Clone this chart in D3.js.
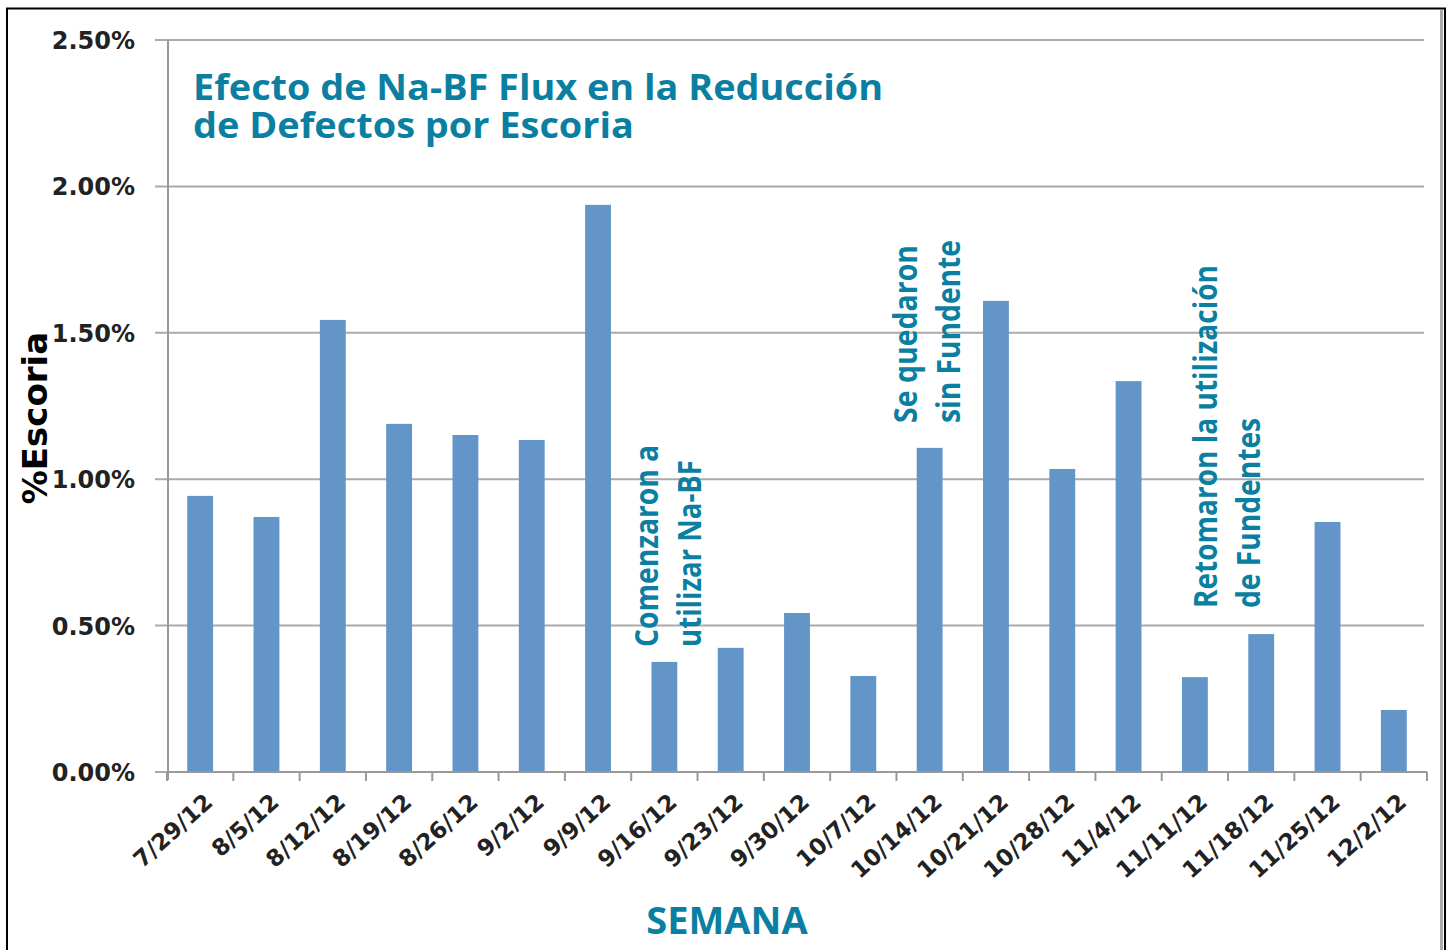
<!DOCTYPE html>
<meta charset="utf-8">
<script src="https://d3js.org/d3.v7.min.js"></script>
<style>
  body { margin: 0; background: #fff; }
</style>
<svg id="chart" width="1449" height="950"></svg>
<script>

// weeks and % slag values
var weeks = ["7/29/12", "8/5/12", "8/12/12", "8/19/12", "8/26/12", "9/2/12", "9/9/12",
  "9/16/12", "9/23/12", "9/30/12", "10/7/12", "10/14/12", "10/21/12", "10/28/12",
  "11/4/12", "11/11/12", "11/18/12", "11/25/12", "12/2/12"];
var escoria = [0.00943, 0.00871, 0.01544, 0.01189, 0.01151, 0.01134, 0.01937,
  0.00376, 0.00424, 0.00543, 0.00328, 0.01107, 0.01609, 0.01035,
  0.01335, 0.00324, 0.00471, 0.00854, 0.00212];
var yTicks = [0, 0.005, 0.01, 0.015, 0.02, 0.025];

var titleLines = ["Efecto de Na-BF Flux en la Reducción", "de Defectos por Escoria"];
var notes = [
  { week: "9/16/12", lines: ["Comenzaron a", "utilizar Na-BF"] },
  { week: "10/14/12", lines: ["Se quedaron", "sin Fundente"] },
  { week: "11/11/12", lines: ["Retomaron la utilización", "de Fundentes"] }
];

var teal = "#0b7fa1";
var barColor = "#6395c8";

var svg = d3.select("#chart");

// plot box
var plotLeft = 167, plotRight = 1427, plotTop = 40, plotBottom = 772;

var x = d3.scaleBand()
  .domain(weeks)
  .range([plotLeft, plotRight])
  .paddingInner(0.61)
  .paddingOuter(0.305);

var y = d3.scaleLinear()
  .domain([0, 0.025])
  .range([plotBottom, plotTop]);

// frame
svg.append("line").attr("x1", 7).attr("x2", 7).attr("y1", 8).attr("y2", 950)
  .attr("stroke", "#000").attr("stroke-width", 2);
svg.append("line").attr("x1", 6).attr("x2", 1446).attr("y1", 8.5).attr("y2", 8.5)
  .attr("stroke", "#000").attr("stroke-width", 2);
svg.append("line").attr("x1", 1445).attr("x2", 1445).attr("y1", 8).attr("y2", 950)
  .attr("stroke", "#000").attr("stroke-width", 2);
svg.append("line").attr("x1", 1441.5).attr("x2", 1441.5).attr("y1", 10).attr("y2", 950)
  .attr("stroke", "#aaa").attr("stroke-width", 3);

// gridlines
svg.append("g")
  .selectAll("line")
  .data(yTicks)
  .enter()
  .append("line")
    .attr("x1", 155)
    .attr("x2", 1424)
    .attr("y1", function(d) { return y(d); })
    .attr("y2", function(d) { return y(d); })
    .attr("stroke", "#aaa")
    .attr("stroke-width", 2);

// y tick labels
svg.append("g")
  .selectAll("text")
  .data(yTicks)
  .enter()
  .append("text")
    .attr("x", 135)
    .attr("y", function(d) { return y(d) + 9; })
    .attr("text-anchor", "end")
    .style("font-family", "DejaVu Sans")
    .style("font-weight", "bold")
    .style("font-size", "24px")
    .style("fill", "#222")
    .text(function(d) { return d3.format(".2%")(d); });

// y axis line
svg.append("line").attr("x1", 168).attr("x2", 168).attr("y1", plotTop).attr("y2", plotBottom + 8)
  .attr("stroke", "#999").attr("stroke-width", 2);

// bars
svg.append("g")
  .selectAll("rect")
  .data(escoria)
  .enter()
  .append("rect")
    .attr("x", function(d, i) { return x(weeks[i]); })
    .attr("y", function(d) { return y(d); })
    .attr("width", x.bandwidth())
    .attr("height", function(d) { return y(0) - y(d); })
    .attr("fill", barColor);

// x axis line and ticks at band edges
svg.append("line").attr("x1", plotLeft).attr("x2", plotRight).attr("y1", plotBottom).attr("y2", plotBottom)
  .attr("stroke", "#999").attr("stroke-width", 2);
var edges = weeks.map(function(w) { return x(w) + x.bandwidth() / 2 - x.step() / 2; });
edges.push(plotRight);
svg.append("g")
  .selectAll("line")
  .data(edges)
  .enter()
  .append("line")
    .attr("x1", function(d) { return d; })
    .attr("x2", function(d) { return d; })
    .attr("y1", plotBottom)
    .attr("y2", plotBottom + 9)
    .attr("stroke", "#999")
    .attr("stroke-width", 2);

// x tick labels
svg.append("g")
  .selectAll("text")
  .data(weeks)
  .enter()
  .append("text")
    .attr("transform", function(d) {
      return "translate(" + (x(d) + x.bandwidth() / 2 + 14) + "," + (plotBottom + 32) + ") rotate(-42)";
    })
    .attr("text-anchor", "end")
    .style("font-family", "DejaVu Sans")
    .style("font-weight", "bold")
    .style("font-size", "23px")
    .style("fill", "#222")
    .text(function(d) { return d; });

// title
var titleWidths = [690, 441];
svg.append("g")
  .selectAll("text")
  .data(titleLines)
  .enter()
  .append("text")
    .attr("x", 193)
    .attr("y", function(d, i) { return 100 + i * 38; })
    .attr("textLength", function(d, i) { return titleWidths[i]; })
    .attr("lengthAdjust", "spacingAndGlyphs")
    .style("font-family", "Open Sans")
    .style("font-weight", "bold")
    .style("font-size", "36px")
    .style("fill", teal)
    .text(function(d) { return d; });

// annotations (vertical text)
var noteLayout = [
  { dx: -6, y0: 647, lens: [202, 187] },
  { dx: -13, y0: 423, lens: [178, 183] },
  { dx: 22, y0: 608, lens: [343, 190] }
];
notes.forEach(function(n, k) {
  var cx = x(n.week) + x.bandwidth() / 2 + noteLayout[k].dx;
  n.lines.forEach(function(line, j) {
    svg.append("text")
      .attr("transform", "translate(" + (cx + j * 43) + "," + noteLayout[k].y0 + ") rotate(-90)")
      .attr("textLength", noteLayout[k].lens[j])
      .attr("lengthAdjust", "spacingAndGlyphs")
      .style("font-family", "Open Sans")
      .style("font-weight", "bold")
      .style("font-size", "33px")
      .style("fill", teal)
      .text(line);
  });
});

// axis titles
svg.append("text")
  .attr("transform", "translate(47,418) rotate(-90)")
  .attr("text-anchor", "middle")
  .style("font-family", "DejaVu Sans")
  .style("font-weight", "bold")
  .style("font-size", "34px")
  .style("fill", "#000")
  .text("%Escoria");

svg.append("text")
  .attr("x", 727)
  .attr("y", 934)
  .attr("text-anchor", "middle")
  .style("font-family", "Open Sans")
  .style("font-weight", "bold")
  .style("font-size", "38px")
  .style("fill", teal)
  .text("SEMANA");

</script>
